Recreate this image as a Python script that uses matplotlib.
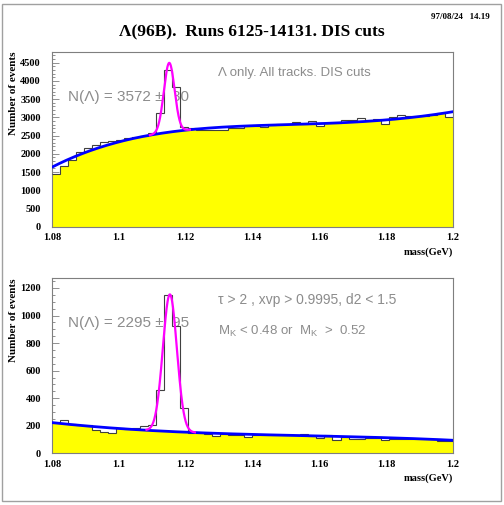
import numpy as np
import matplotlib.pyplot as plt
from matplotlib.patches import Rectangle
from matplotlib.ticker import MultipleLocator, FormatStrFormatter

plt.rcParams['font.family'] = ['Liberation Serif', 'DejaVu Serif']
plt.rcParams['mathtext.fontset'] = 'custom'
plt.rcParams['mathtext.rm'] = 'Liberation Sans'

# histogram binning (GeV)
M_LO, M_HI, NBINS = 1.08, 1.2, 50

# top panel: all tracks
top_counts = [1450, 1665, 1830, 2040, 2150, 2240, 2310, 2360, 2380, 2420,
              2460, 2490, 2560, 3130, 4310, 3820, 2745, 2700, 2640, 2640,
              2660, 2640, 2700, 2720, 2760, 2750, 2744, 2790, 2817, 2817,
              2863, 2817, 2900, 2762, 2835, 2835, 2927, 2927, 2972, 2930,
              2955, 2817, 3018, 3055, 3040, 3045, 3045, 3064, 3110, 3000]
top_bg_mass = [1.08, 1.085, 1.09, 1.095, 1.10, 1.105, 1.11, 1.12, 1.14, 1.16, 1.18, 1.19, 1.2]
top_bg_val = [1628, 1860, 2040, 2190, 2320, 2430, 2530, 2650, 2762, 2835, 2927, 3018, 3155]
top_peak = (1.1151, 0.0016, 1900)      # mean, sigma, amplitude
top_peak_range = (1.1093, 1.1213)

# bottom panel: tight cuts
bot_counts = [223, 238, 211, 206, 206, 170, 158, 145, 187, 175,
              187, 199, 204, 456, 1151, 926, 327, 150, 145, 140,
              126, 140, 131, 131, 121, 136, 131, 131, 131, 131,
              131, 138, 126, 109, 131, 97, 121, 107, 107, 109,
              109, 97, 102, 102, 102, 102, 102, 102, 92, 87]
bot_bg_mass = [1.08, 1.10, 1.12, 1.14, 1.16, 1.18, 1.2]
bot_bg_val = [223, 180, 152, 138, 126, 112, 95]
bot_peak = (1.1153, 0.0021, 995)
bot_peak_range = (1.1083, 1.1228)

GRAY = '#7f7f7f'
TXT = '#8c8c8c'


def fit_bg(masses, values, deg):
    x = np.array(masses) - M_LO
    coef = np.polyfit(x, np.array(values, float), deg)
    return lambda m: np.polyval(coef, np.asarray(m) - M_LO)


def draw_panel(ax, counts, bg, peak, prange, ymax, major, minor):
    counts = np.array(counts, float)
    edges = np.linspace(M_LO, M_HI, NBINS + 1)

    m = np.linspace(M_LO, M_HI, 2401)
    idx = np.clip(((m - M_LO) / (edges[1] - edges[0])).astype(int), 0, NBINS - 1)
    fill_top = np.minimum(counts[idx], bg(m))

    mu, sig, amp = peak
    mp = np.linspace(prange[0], prange[1], 300)
    sig_curve = bg(mp) + amp * np.exp(-0.5 * ((mp - mu) / sig) ** 2)

    # area under the peak fit is painted white, hiding the text behind it
    ax.fill_between(mp, 0, sig_curve, color='white', lw=0, zorder=1.5)
    ax.fill_between(m, 0, fill_top, color='#ffff00', lw=0, zorder=2)
    ax.stairs(counts, edges, baseline=None, color='#404040', lw=0.8, zorder=3)

    ax.plot(m, bg(m), color='#0000ff', lw=2, zorder=4)
    ax.plot(mp, sig_curve, color='#ff00ff', lw=1.6, zorder=4.5)

    ax.set_xlim(M_LO, M_HI)
    ax.set_ylim(0, ymax)
    ax.set_xticks([1.08, 1.1, 1.12, 1.14, 1.16, 1.18, 1.2])
    ax.set_xticklabels(['1.08', '1.1', '1.12', '1.14', '1.16', '1.18', '1.2'])
    ax.yaxis.set_major_locator(MultipleLocator(major))
    ax.yaxis.set_minor_locator(MultipleLocator(minor))
    ax.yaxis.set_major_formatter(FormatStrFormatter('%d'))
    ax.tick_params(axis='x', length=0, pad=4.5, labelsize=7.5)
    ax.tick_params(axis='y', which='major', direction='in', length=5,
                   width=0.6, color=GRAY, pad=8, labelsize=7.5)
    ax.tick_params(axis='y', which='minor', direction='in', length=2.5,
                   width=0.6, color=GRAY)
    for lab in ax.get_xticklabels() + ax.get_yticklabels():
        lab.set_fontweight('bold')
    for sp in ax.spines.values():
        sp.set_color(GRAY)
        sp.set_linewidth(0.8)

    ax.text(-0.0973, 1.0, 'Number of events', transform=ax.transAxes,
            rotation=90, ha='center', va='top', fontsize=8, fontweight='bold')
    ax.text(1.0, -0.145, 'mass(GeV)', transform=ax.transAxes,
            ha='right', va='center', fontsize=7.5, fontweight='bold')


fig = plt.figure(figsize=(5.04, 5.05), dpi=100)
ax1 = fig.add_axes([0.1032, 0.5511, 0.795, 0.3465])
ax2 = fig.add_axes([0.1032, 0.1024, 0.795, 0.3465])

draw_panel(ax1, top_counts, fit_bg(top_bg_mass, top_bg_val, 4),
           top_peak, top_peak_range, 4800, 500, 100)
draw_panel(ax2, bot_counts, fit_bg(bot_bg_mass, bot_bg_val, 3),
           bot_peak, bot_peak_range, 1270, 200, 50)

sans = dict(family=['Liberation Sans', 'DejaVu Sans'], color=TXT, zorder=1)
ax1.text(0.414, 0.878, 'Λ only. All tracks. DIS cuts', transform=ax1.transAxes,
         va='center', fontsize=9.5, **sans)
ax1.text(0.040, 0.743, 'N(Λ) = 3572 ±  80', transform=ax1.transAxes,
         va='center', fontsize=11, **sans)
ax2.text(0.414, 0.876, 'τ > 2 , xvp > 0.9995, d2 < 1.5', transform=ax2.transAxes,
         va='center', fontsize=10, **sans)
ax2.text(0.414, 0.699, r'M$_{\mathrm{K}}$ < 0.48 or  M$_{\mathrm{K}}$  >  0.52',
         transform=ax2.transAxes, va='center', fontsize=9.5, **sans)
ax2.text(0.040, 0.743, 'N(Λ) = 2295 ±  95', transform=ax2.transAxes,
         va='center', fontsize=11, **sans)

fig.text(0.5, 0.935, 'Λ(96B).  Runs 6125-14131. DIS cuts', ha='center',
         va='center', fontsize=12.5, fontweight='bold')
fig.text(0.972, 0.966, '97/08/24   14.19', ha='right', va='center',
         fontsize=6.5, fontweight='bold')

fig.patches.append(Rectangle((2 / 504, 4 / 505), 499 / 504, 497 / 505,
                             transform=fig.transFigure, fill=False,
                             edgecolor='#a0a0a0', lw=1))

fig.savefig('out.png', dpi=100)
